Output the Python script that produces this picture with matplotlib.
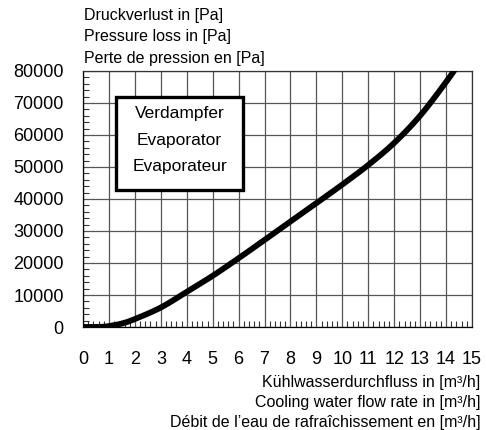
import matplotlib
matplotlib.use('Agg')
import matplotlib.pyplot as plt
from matplotlib.patches import Rectangle
from matplotlib.ticker import MultipleLocator
import numpy as np

# Druckverlust Verdampfer über Kühlwasserdurchfluss
flow = [0, 0.5, 0.8, 1.0, 1.5, 2.0, 3.0, 4.0, 5.0, 6.0, 7.0, 8.0, 9.0, 10.0,
        11.0, 12.0, 13.0, 14.0, 14.6]
pressure_loss = [0, 0, 100, 300, 1100, 2500, 6100, 11000, 16000, 21500, 27200,
                 33000, 38700, 44500, 50600, 57500, 66000, 76500, 83500]

x_ticks = list(range(0, 16))
y_ticks = list(range(0, 80001, 10000))

y_title = ['Druckverlust in [Pa]', 'Pressure loss in [Pa]',
           'Perte de pression en [Pa]']
x_title = ['Kühlwasserdurchfluss in [m³/h]', 'Cooling water flow rate in [m³/h]',
           'Débit de l’eau de rafraîchissement en [m³/h]']
box_text = ['Verdampfer', 'Evaporator', 'Evaporateur']

plt.rcParams['font.family'] = ['Liberation Sans', 'DejaVu Sans']


def catmull_rom(xs, ys, n=30):
    # glatte Kurve durch alle Punkte
    pts = np.column_stack([xs, ys]).astype(float)
    pts = np.vstack([pts[0], pts, pts[-1]])
    out = []
    t = np.linspace(0, 1, n, endpoint=False)[:, None]
    for i in range(1, len(pts) - 2):
        p0, p1, p2, p3 = pts[i - 1], pts[i], pts[i + 1], pts[i + 2]
        seg = 0.5 * ((2 * p1) + (-p0 + p2) * t
                     + (2 * p0 - 5 * p1 + 4 * p2 - p3) * t ** 2
                     + (-p0 + 3 * p1 - 3 * p2 + p3) * t ** 3)
        out.append(seg)
    out.append(pts[-2][None, :])
    out = np.vstack(out)
    return out[:, 0], out[:, 1]


fig = plt.figure(figsize=(4.86, 4.30), dpi=100)
ax = fig.add_axes([0.171, 0.2395, 0.800, 0.5955])

qs, ps = catmull_rom(flow, pressure_loss)
ax.plot(qs, ps, color='black', lw=4.2, solid_capstyle='butt', zorder=4)

ax.set_xlim(0, 15)
ax.set_ylim(0, 80000)
ax.set_xticks(x_ticks)
ax.set_yticks(y_ticks)
ax.xaxis.set_minor_locator(MultipleLocator(0.2))
ax.yaxis.set_minor_locator(MultipleLocator(2000))
ax.tick_params(which='major', length=0, labelsize=13)
ax.tick_params(axis='x', which='major', pad=17)
ax.tick_params(axis='y', which='major', pad=14)
ax.tick_params(which='minor', direction='in', length=4, width=0.8,
               color='#333333')
ax.grid(True, which='major', color='#555555', lw=0.9)
for s in ax.spines.values():
    s.set_color('#333333')
    s.set_linewidth(0.9)
ax.spines['left'].set_color('black')
ax.spines['bottom'].set_color('black')
ax.set_axisbelow(True)

# Beschriftungskasten
ax.add_patch(Rectangle((0.084, 0.535), 0.328, 0.363, transform=ax.transAxes,
                       facecolor='white', edgecolor='black', lw=2.4, zorder=5))
for i, t in enumerate(box_text):
    ax.text(0.248, 0.835 - i * 0.105, t, transform=ax.transAxes, ha='center',
            va='center', fontsize=12.5, zorder=6)

for i, t in enumerate(y_title):
    fig.text(0.173, 0.965 - i * 0.05, t, ha='left', va='center', fontsize=11.5)
for i, t in enumerate(x_title):
    fig.text(0.988, 0.110 - i * 0.0465, t, ha='right', va='center',
             fontsize=11.5)

fig.savefig('out.png', dpi=100)
